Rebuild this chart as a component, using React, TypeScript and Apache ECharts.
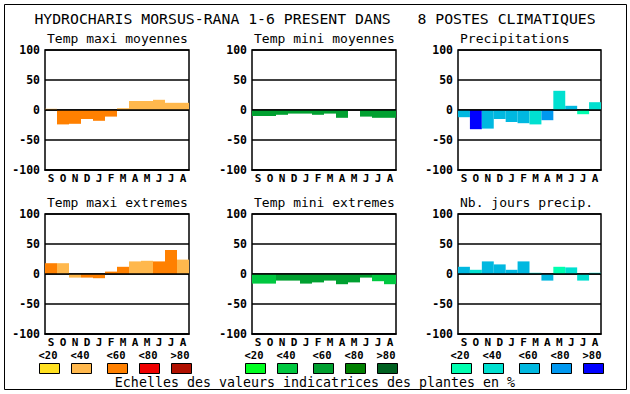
import React, { useEffect, useRef } from "react";
import * as echarts from "echarts";

const mainTitle = "HYDROCHARIS MORSUS-RANA 1-6 PRESENT DANS   8 POSTES CLIMATIQUES";
const footnote = "Echelles des valeurs indicatrices des plantes en %";
const months = ["S", "O", "N", "D", "J", "F", "M", "A", "M", "J", "J", "A"];
const yTicks = [-100, -50, 0, 50, 100];
const scaleLabels = ["<20", "<40", "<60", "<80", ">80"];

const orangeScale = ["#ffe020", "#ffb84d", "#ff8000", "#f00000", "#b01000"];
const greenScale = ["#00ff20", "#00c840", "#00a030", "#008000", "#006020"];
const blueScale = ["#00ffb0", "#00e0d0", "#00b8e0", "#0098f0", "#0000ff"];

const panelTitles = [
  "Temp maxi moyennes",
  "Temp mini moyennes",
  "Precipitations",
  "Temp maxi extremes",
  "Temp mini extremes",
  "Nb. jours precip.",
];

const tmaxMoy = [2, -24, -23, -15, -18, -11, 3, 15, 15, 17, 12, 12];
const tminMoy = [-10, -10, -8, -6, -6, -8, -6, -13, 0, -11, -13, -13];
const precip = [-12, -32, -31, -15, -20, -22, -24, -17, 32, 7, -7, 13];
const tmaxExt = [18, 18, -6, -6, -7, 4, 12, 21, 22, 21, 40, 24];
const tminExt = [-16, -16, -11, -11, -16, -14, -11, -17, -14, -6, -12, -17];
const nbJours = [12, 7, 21, 16, 7, 21, 2, -11, 12, 11, -11, 2];

// colour class (index into the scale) of each bar
const tmaxMoyClass = [1, 2, 2, 2, 2, 2, 1, 1, 1, 1, 1, 1];
const tminMoyClass = [2, 2, 2, 2, 2, 2, 2, 2, 2, 2, 2, 2];
const precipClass = [2, 4, 2, 2, 2, 2, 1, 3, 1, 2, 0, 1];
const tmaxExtClass = [2, 1, 1, 2, 2, 2, 2, 1, 1, 2, 2, 1];
const tminExtClass = [1, 1, 2, 2, 2, 2, 2, 2, 2, 2, 1, 1];
const nbJoursClass = [2, 1, 2, 2, 2, 2, 1, 2, 0, 1, 1, 1];

const MONO = "'DejaVu Sans Mono', 'Liberation Mono', monospace";

export default function App() {
  const ref = useRef<HTMLDivElement>(null);
  useEffect(() => {
    document.body.style.margin = "0";
    if (!ref.current) return;
    const chart = echarts.init(ref.current, undefined, { renderer: "svg" });

    const panels = [
      { values: tmaxMoy, cls: tmaxMoyClass, scale: orangeScale },
      { values: tminMoy, cls: tminMoyClass, scale: greenScale },
      { values: precip, cls: precipClass, scale: blueScale },
      { values: tmaxExt, cls: tmaxExtClass, scale: orangeScale },
      { values: tminExt, cls: tminExtClass, scale: greenScale },
      { values: nbJours, cls: nbJoursClass, scale: blueScale },
    ];
    const lefts = [45, 252, 458];
    const widths = [144, 144, 143];
    const tops = [50, 214];
    const H = 120;

    const grids: any[] = [];
    const xAxes: any[] = [];
    const yAxes: any[] = [];
    const series: any[] = [];
    const graphics: any[] = [];

    panels.forEach((p, i) => {
      const col = i % 3;
      const row = Math.floor(i / 3);
      grids.push({
        left: lefts[col],
        top: tops[row],
        width: widths[col],
        height: H,
        show: true,
        borderColor: "#000",
        borderWidth: 1.5,
        backgroundColor: "#fff",
        z: 0,
      });
      xAxes.push({
        type: "category",
        gridIndex: i,
        data: months,
        axisLine: { show: true, onZero: false, lineStyle: { color: "#000", width: 1.5 } },
        axisTick: { show: false },
        axisLabel: {
          interval: 0,
          margin: 3,
          color: "#000",
          fontFamily: MONO,
          fontWeight: "bold",
          fontSize: 11,
          lineHeight: 11,
        },
        splitLine: { show: false },
      });
      yAxes.push({
        type: "value",
        gridIndex: i,
        min: yTicks[0],
        max: yTicks[yTicks.length - 1],
        interval: 50,
        axisLine: { show: false },
        axisTick: { show: false },
        axisLabel: {
          margin: 5,
          color: "#000",
          fontFamily: MONO,
          fontWeight: "bold",
          fontSize: 11.5,
        },
        splitLine: { show: true, lineStyle: { color: "#000", width: 1.5 } },
      });
      series.push({
        type: "bar",
        xAxisIndex: i,
        yAxisIndex: i,
        barCategoryGap: "0%",
        data: p.values.map((v, k) => ({
          value: v,
          itemStyle: { color: p.scale[p.cls[k]] },
        })),
        markLine: {
          silent: true,
          symbol: "none",
          label: { show: false },
          lineStyle: { color: "#000", width: 1.5, type: "solid" },
          data: [{ yAxis: 0 }],
        },
      });
      graphics.push({
        type: "text",
        x: lefts[col] + 2,
        y: tops[row] - 12,
        style: {
          text: panelTitles[i],
          fill: "#000",
          font: `13px ${MONO}`,
          textVerticalAlign: "middle",
          textAlign: "left",
        },
      });
    });

    // outer frame
    graphics.push({
      type: "rect",
      shape: { x: 4.5, y: 4.5, width: 622, height: 385 },
      style: { fill: "none", stroke: "#000", lineWidth: 1 },
      z: 100,
    });
    graphics.push({
      type: "text",
      x: 315,
      y: 18,
      style: {
        text: mainTitle,
        fill: "#000",
        font: `14.8px ${MONO}`,
        textAlign: "center",
        textVerticalAlign: "middle",
      },
    });

    const scales = [orangeScale, greenScale, blueScale];
    const groupStarts = [39.5, 245.5, 451.5];
    const offsets = [0, 32, 68, 100, 132];
    scales.forEach((sc, g) => {
      sc.forEach((c, k) => {
        const x = groupStarts[g] + offsets[k];
        graphics.push({
          type: "rect",
          shape: { x, y: 363.5, width: 20, height: 10 },
          style: { fill: c, stroke: "#000", lineWidth: 1 },
        });
        graphics.push({
          type: "text",
          x: x - 1,
          y: 355,
          style: {
            text: scaleLabels[k],
            fill: "#000",
            font: `bold 10.5px ${MONO}`,
            lineHeight: 10,
            textAlign: "left",
            textVerticalAlign: "middle",
          },
        });
      });
    });
    graphics.push({
      type: "text",
      x: 315,
      y: 382,
      style: {
        text: footnote,
        fill: "#000",
        font: `13.3px ${MONO}`,
        textAlign: "center",
        textVerticalAlign: "middle",
      },
    });

    chart.setOption({
      animation: false,
      backgroundColor: "#fff",
      grid: grids,
      xAxis: xAxes,
      yAxis: yAxes,
      series,
      graphic: graphics,
    });
    return () => chart.dispose();
  }, []);
  return <div ref={ref} style={{ width: 630, height: 394 }} />;
}
